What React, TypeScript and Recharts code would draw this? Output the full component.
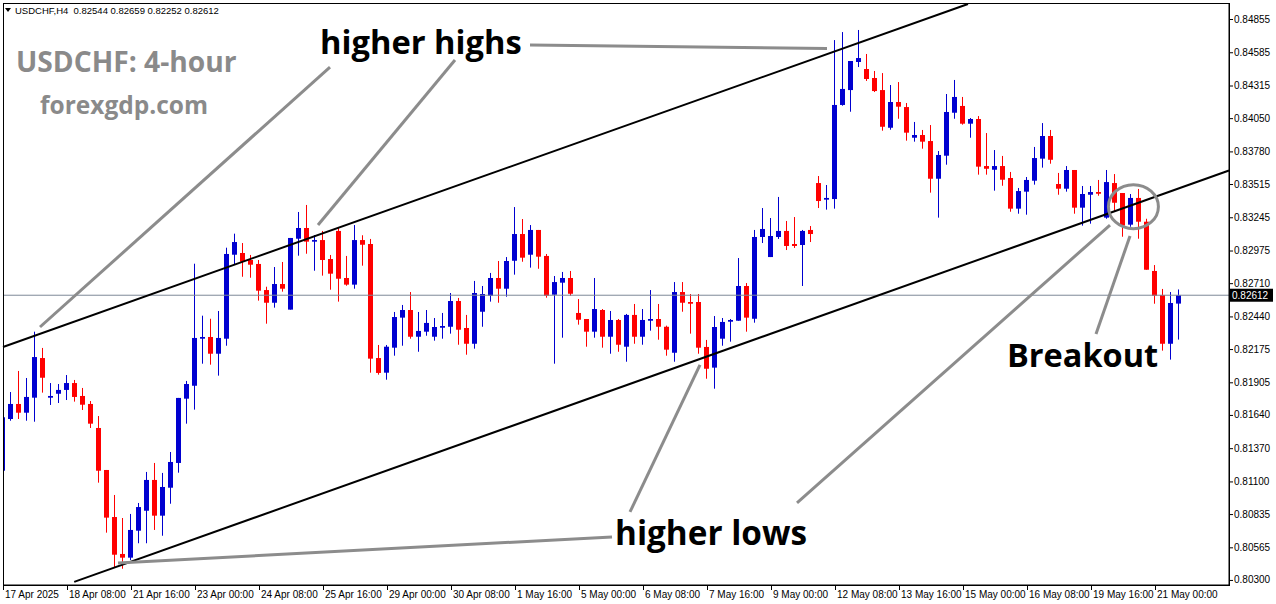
import { ComposedChart, Bar, XAxis, YAxis, ReferenceLine, ReferenceDot } from 'recharts';

const symbolInfo = 'USDCHF,H4';
const lastQuote = [0.82544, 0.82659, 0.82252, 0.82612];

// H4 candles from 17 Apr 2025 00:00, [open, high, low, close]
const candles: number[][] = [
  [0.81187, 0.81625, 0.81138, 0.81621], [0.81607, 0.81826, 0.81593, 0.81729], [0.81729, 0.81997, 0.81607, 0.81658],
  [0.81658, 0.8194, 0.81593, 0.81786], [0.8178, 0.82316, 0.81585, 0.8211], [0.82102, 0.82184, 0.81821, 0.81942],
  [0.8178, 0.81899, 0.81721, 0.81794], [0.81812, 0.81891, 0.81737, 0.81843], [0.81843, 0.81964, 0.81761, 0.81899],
  [0.81899, 0.81924, 0.81748, 0.81786], [0.81794, 0.81859, 0.8168, 0.81723], [0.81729, 0.81753, 0.81534, 0.81569],
  [0.81534, 0.81631, 0.8109, 0.81187], [0.81193, 0.81193, 0.80684, 0.80806], [0.80811, 0.8099, 0.80403, 0.80505],
  [0.80511, 0.80803, 0.80391, 0.80481], [0.80481, 0.80836, 0.80462, 0.80706], [0.807, 0.80925, 0.80598, 0.80892],
  [0.80862, 0.81177, 0.80598, 0.81112], [0.81112, 0.8125, 0.80706, 0.80822], [0.80822, 0.81169, 0.80659, 0.81055],
  [0.81049, 0.81339, 0.80919, 0.81258], [0.8125, 0.81778, 0.81171, 0.81778], [0.81772, 0.81916, 0.81569, 0.81891],
  [0.81877, 0.82868, 0.81683, 0.82265], [0.82259, 0.82446, 0.82056, 0.82273], [0.82273, 0.82421, 0.82048, 0.82137],
  [0.82137, 0.82484, 0.81959, 0.82265], [0.82259, 0.82998, 0.82202, 0.82947], [0.82941, 0.83112, 0.8286, 0.83044],
  [0.82955, 0.83036, 0.82762, 0.82884], [0.82898, 0.82939, 0.82754, 0.8286], [0.82866, 0.82898, 0.82568, 0.82649],
  [0.82654, 0.82681, 0.82381, 0.82551], [0.82551, 0.82841, 0.82511, 0.82703], [0.82703, 0.82882, 0.82641, 0.82665],
  [0.82495, 0.83077, 0.82495, 0.83077], [0.83071, 0.83288, 0.82933, 0.83158], [0.83158, 0.83345, 0.82949, 0.83047],
  [0.83047, 0.83101, 0.82811, 0.8306], [0.8306, 0.83134, 0.82771, 0.82898], [0.82906, 0.82939, 0.82657, 0.82787],
  [0.83134, 0.8316, 0.8256, 0.82746], [0.82752, 0.82931, 0.82689, 0.82698], [0.82698, 0.83182, 0.82665, 0.8306],
  [0.8306, 0.83099, 0.82852, 0.83022], [0.83028, 0.83069, 0.81983, 0.82097], [0.82102, 0.82208, 0.81967, 0.81981],
  [0.81983, 0.82208, 0.81926, 0.82194], [0.82186, 0.82476, 0.82121, 0.82435], [0.8243, 0.82533, 0.82202, 0.82492],
  [0.82492, 0.82638, 0.82259, 0.82275], [0.82275, 0.82476, 0.82153, 0.82322], [0.82316, 0.82492, 0.82283, 0.82387],
  [0.82275, 0.82427, 0.82243, 0.82354], [0.82348, 0.82468, 0.82259, 0.82362], [0.82356, 0.8263, 0.823, 0.82565],
  [0.82565, 0.8259, 0.8221, 0.82332], [0.82346, 0.82452, 0.82129, 0.82218], [0.82218, 0.82728, 0.82178, 0.8263],
  [0.82478, 0.82687, 0.82356, 0.82622], [0.82608, 0.82793, 0.8256, 0.82752], [0.82752, 0.8289, 0.82551, 0.82665],
  [0.82665, 0.82922, 0.826, 0.8289], [0.82892, 0.83328, 0.82779, 0.83109], [0.83109, 0.83231, 0.82884, 0.82917],
  [0.82941, 0.83182, 0.82836, 0.83142], [0.83142, 0.83142, 0.82827, 0.82925], [0.82931, 0.82947, 0.82592, 0.82608],
  [0.82616, 0.82768, 0.82056, 0.82719], [0.82714, 0.82801, 0.82267, 0.82752], [0.82752, 0.82809, 0.82608, 0.82624],
  [0.82468, 0.82581, 0.82373, 0.82413], [0.82419, 0.82419, 0.82194, 0.82316], [0.82316, 0.82752, 0.82267, 0.825],
  [0.82492, 0.825, 0.82186, 0.82275], [0.82275, 0.82484, 0.82137, 0.82411], [0.82411, 0.82419, 0.82153, 0.8221],
  [0.82194, 0.8246, 0.82072, 0.82452], [0.82452, 0.82541, 0.82218, 0.82275], [0.82275, 0.825, 0.8221, 0.82411],
  [0.82405, 0.82654, 0.82324, 0.82419], [0.82419, 0.82541, 0.82251, 0.82356], [0.82356, 0.82365, 0.82121, 0.8217],
  [0.82145, 0.82719, 0.82072, 0.82638], [0.82638, 0.82719, 0.82478, 0.82551], [0.82557, 0.82622, 0.823, 0.82543],
  [0.82557, 0.82622, 0.82137, 0.82186], [0.82192, 0.82249, 0.81934, 0.82015], [0.82024, 0.82443, 0.81853, 0.82354],
  [0.82259, 0.82427, 0.82202, 0.82395], [0.82397, 0.82419, 0.82235, 0.82411], [0.82405, 0.82914, 0.82405, 0.82687],
  [0.82687, 0.82711, 0.82316, 0.8243], [0.82421, 0.83142, 0.82389, 0.83085], [0.83085, 0.8332, 0.83036, 0.8315],
  [0.82922, 0.83239, 0.82922, 0.83093], [0.83085, 0.8341, 0.83069, 0.83134], [0.83134, 0.83215, 0.82979, 0.83012],
  [0.83028, 0.83247, 0.82996, 0.83012], [0.8302, 0.83142, 0.82687, 0.83134], [0.83142, 0.83174, 0.83044, 0.83109],
  [0.83523, 0.8358, 0.8332, 0.83377], [0.83388, 0.83507, 0.83307, 0.83402], [0.83393, 0.84684, 0.83315, 0.84157],
  [0.84157, 0.84749, 0.84151, 0.84287], [0.84278, 0.84514, 0.84102, 0.84514], [0.84506, 0.84766, 0.84465, 0.84538],
  [0.84449, 0.84571, 0.84352, 0.84368], [0.84376, 0.84433, 0.84262, 0.8427], [0.84278, 0.84416, 0.83948, 0.8398],
  [0.83972, 0.84319, 0.83956, 0.84181], [0.84181, 0.84343, 0.84045, 0.84143], [0.8414, 0.84173, 0.83867, 0.83932],
  [0.83891, 0.84019, 0.83859, 0.83913], [0.83913, 0.83954, 0.83802, 0.83859], [0.83864, 0.83994, 0.83445, 0.83558],
  [0.83558, 0.83783, 0.83242, 0.83751], [0.83745, 0.84246, 0.83672, 0.841], [0.84094, 0.8436, 0.84045, 0.84222],
  [0.84149, 0.84222, 0.83997, 0.84005], [0.84005, 0.84051, 0.83891, 0.84043], [0.84043, 0.84067, 0.83591, 0.83656],
  [0.83661, 0.83929, 0.83591, 0.83639], [0.83631, 0.83791, 0.83461, 0.83661], [0.83661, 0.83743, 0.83501, 0.8355],
  [0.83564, 0.83613, 0.8329, 0.83315], [0.83315, 0.83483, 0.83274, 0.83458], [0.83453, 0.83572, 0.83266, 0.83548],
  [0.83542, 0.83816, 0.8351, 0.83726], [0.83721, 0.8401, 0.83648, 0.83905], [0.83905, 0.83954, 0.8368, 0.83712],
  [0.83515, 0.83605, 0.83428, 0.83477], [0.83477, 0.83661, 0.83453, 0.83629], [0.83629, 0.83629, 0.83274, 0.83323],
  [0.83323, 0.83499, 0.83177, 0.83434], [0.83428, 0.83499, 0.83193, 0.8345], [0.8345, 0.83548, 0.8342, 0.83436],
  [0.83242, 0.83629, 0.83233, 0.83531], [0.83523, 0.83596, 0.8329, 0.83363], [0.83442, 0.83442, 0.83087, 0.83177],
  [0.83185, 0.83434, 0.83168, 0.83402], [0.83402, 0.83475, 0.83071, 0.83209], [0.83209, 0.83233, 0.82819, 0.82819],
  [0.82809, 0.82857, 0.82543, 0.82608], [0.82614, 0.82663, 0.82162, 0.82218], [0.82218, 0.82638, 0.82089, 0.82549],
  [0.82544, 0.82659, 0.82252, 0.82612],
];

// one label every 8 bars
const timeLabels = [
  '17 Apr 2025', '18 Apr 08:00', '21 Apr 16:00', '23 Apr 00:00', '24 Apr 08:00', '25 Apr 16:00',
  '29 Apr 00:00', '30 Apr 08:00', '1 May 16:00', '5 May 00:00', '6 May 08:00', '7 May 16:00',
  '9 May 00:00', '12 May 08:00', '13 May 16:00', '15 May 00:00', '16 May 08:00', '19 May 16:00', '21 May 00:00',
];

const priceTicks = [
  0.84855, 0.84585, 0.84315, 0.8405, 0.8378, 0.83515, 0.83245, 0.82975, 0.8271,
  0.8244, 0.82175, 0.81905, 0.8164, 0.8137, 0.811, 0.80835, 0.80565, 0.803,
];

// channel drawn on the chart: [bar index, price] pairs
const channelLines = [
  [[0, 0.82192], [120.625, 0.84977]],
  [[8.9, 0.80284], [153.25, 0.83625]],
];

// grey pointer lines from the captions
const pointerLines = [
  [[40.875, 0.84465], [4.625, 0.82354]],
  [[56.5, 0.84522], [39.375, 0.83182]],
  [[65.875, 0.84644], [103, 0.84615]],
  [[76.125, 0.80649], [14.375, 0.80438]],
  [[78.375, 0.80852], [87.125, 0.82046]],
  [[99.25, 0.80925], [138.375, 0.83182]],
  [[136.625, 0.82297], [140.875, 0.83093]],
];

const breakoutRing = { i: 141.3, price: 0.83331 };

const captions = [
  { text: 'higher highs', x: 320, y: 54, size: 32.7, color: '#000' },
  { text: 'higher lows', x: 615, y: 545, size: 33.3, color: '#000' },
  { text: 'Breakout', x: 1007, y: 367, size: 32.5, color: '#000' },
  { text: 'USDCHF: 4-hour', x: 16, y: 72, size: 28.2, color: '#8a8a8a' },
  { text: 'forexgdp.com', x: 40, y: 114, size: 24.5, color: '#8a8a8a' },
];

const W = 1276;
const H = 604;
const PLOT_LEFT = 3;
const PLOT_TOP = 3;
const PLOT_RIGHT = 1229;
const PLOT_BOTTOM = 585;
const BULL = '#0000d0';
const BEAR = '#ff0000';
const UI_FONT = '"Liberation Sans", Arial, sans-serif';

const data = candles.map(([o, h, l, c], i) => ({ i, o, h, l, c }));
const last = lastQuote[3];

function Candle(props: any) {
  const { x, y, width, height, payload } = props;
  if (payload == null || x == null) return null;
  const top = Math.min(y, y + height);
  const bot = Math.max(y, y + height);
  const span = payload.h - payload.l;
  const k = span > 0 ? (bot - top) / span : 0;
  const py = (p: number) => top + (payload.h - p) * k;
  const cx = Math.floor(x + width / 2);
  const up = payload.c >= payload.o;
  const color = up ? BULL : BEAR;
  const bTop = py(Math.max(payload.o, payload.c));
  const bBot = py(Math.min(payload.o, payload.c));
  const bh = Math.max(bBot - bTop, 1.5);
  return (
    <g>
      <line x1={cx + 0.5} x2={cx + 0.5} y1={top} y2={bot} stroke={color} strokeWidth={1} />
      <rect x={cx - 2} y={bTop} width={5} height={bh} fill={color} />
    </g>
  );
}

function TimeTick(props: any) {
  const { x, payload } = props;
  const label = timeLabels[Math.round(payload.value / 8)];
  return (
    <g>
      <line x1={x + 0.5} x2={x + 0.5} y1={PLOT_BOTTOM} y2={PLOT_BOTTOM + 5} stroke="#000" />
      <text x={x + 2} y={PLOT_BOTTOM + 13} fontSize={10} fontFamily={UI_FONT} fill="#000">
        {label}
      </text>
    </g>
  );
}

function PriceTick(props: any) {
  const { y, payload } = props;
  return (
    <g>
      <line x1={PLOT_RIGHT} x2={PLOT_RIGHT + 4} y1={y + 0.5} y2={y + 0.5} stroke="#000" />
      <text x={PLOT_RIGHT + 5} y={y + 3.5} fontSize={10} fontFamily={UI_FONT} fill="#000">
        {payload.value.toFixed(5)}
      </text>
    </g>
  );
}

function PriceTag(props: any) {
  const vb = props.viewBox || {};
  const x = (vb.x ?? 0) + (vb.width ?? 0);
  const y = vb.y ?? 0;
  return (
    <g>
      <rect x={x} y={y - 6.5} width={44} height={13} fill="#000" />
      <text x={x + 3} y={y + 3.5} fontSize={10} fontFamily={UI_FONT} fill="#fff">
        {last.toFixed(5)}
      </text>
    </g>
  );
}

function Ring(props: any) {
  const { cx, cy } = props;
  return <ellipse cx={cx} cy={cy} rx={25} ry={22} fill="none" stroke="#8c8c8c" strokeWidth={3} />;
}

export default function App() {
  const header = `${symbolInfo}  ${lastQuote.map((v) => v.toFixed(5)).join(' ')}`;
  return (
    <div style={{ position: 'absolute', left: 0, top: 0, width: W, height: H, background: '#fff' }}>
      <ComposedChart
        width={W}
        height={H}
        data={data}
        margin={{ top: PLOT_TOP, right: 0, bottom: 0, left: PLOT_LEFT }}
      >
        <XAxis
          type="number"
          dataKey="i"
          domain={[0, 153.25]}
          allowDataOverflow
          ticks={timeLabels.map((_, k) => k * 8)}
          interval={0}
          tick={TimeTick}
          tickLine={false}
          axisLine={{ stroke: '#000' }}
          height={H - PLOT_BOTTOM}
        />
        <YAxis
          orientation="right"
          type="number"
          domain={[0.80259, 0.84985]}
          allowDataOverflow
          ticks={priceTicks}
          interval={0}
          tick={PriceTick}
          tickLine={false}
          axisLine={{ stroke: '#000' }}
          width={W - PLOT_RIGHT}
        />
        <ReferenceLine y={last} stroke="#7d8898" strokeWidth={1} label={<PriceTag />} />
        <Bar dataKey={(d: any) => [d.l, d.h]} barSize={5} shape={Candle} isAnimationActive={false} />
        {channelLines.map((seg, k) => (
          <ReferenceLine
            key={`ch${k}`}
            segment={[{ x: seg[0][0], y: seg[0][1] }, { x: seg[1][0], y: seg[1][1] }]}
            stroke="#000"
            strokeWidth={2}
            ifOverflow="visible"
          />
        ))}
        {pointerLines.map((seg, k) => (
          <ReferenceLine
            key={`pt${k}`}
            segment={[{ x: seg[0][0], y: seg[0][1] }, { x: seg[1][0], y: seg[1][1] }]}
            stroke="#8c8c8c"
            strokeWidth={3}
            ifOverflow="visible"
          />
        ))}
        <ReferenceDot x={breakoutRing.i} y={breakoutRing.price} r={22} shape={Ring} ifOverflow="visible" />
      </ComposedChart>
      <svg
        width={W}
        height={H}
        style={{ position: 'absolute', left: 0, top: 0, pointerEvents: 'none' }}
      >
        <rect
          x={PLOT_LEFT + 0.5}
          y={PLOT_TOP + 0.5}
          width={PLOT_RIGHT - PLOT_LEFT}
          height={PLOT_BOTTOM - PLOT_TOP}
          fill="none"
          stroke="#000"
        />
        <path d="M5 8 L11 8 L8 12 Z" fill="#000" />
        <text x={15} y={14} fontSize={9.5} fontFamily={UI_FONT} fill="#000" style={{ whiteSpace: 'pre' }}>
          {header}
        </text>
        {captions.map((c) => (
          <text
            key={c.text}
            x={c.x}
            y={c.y}
            fontSize={c.size}
            fontWeight={700}
            fontFamily='"Open Sans", "Noto Sans", sans-serif'
            fill={c.color}
          >
            {c.text}
          </text>
        ))}
      </svg>
    </div>
  );
}
